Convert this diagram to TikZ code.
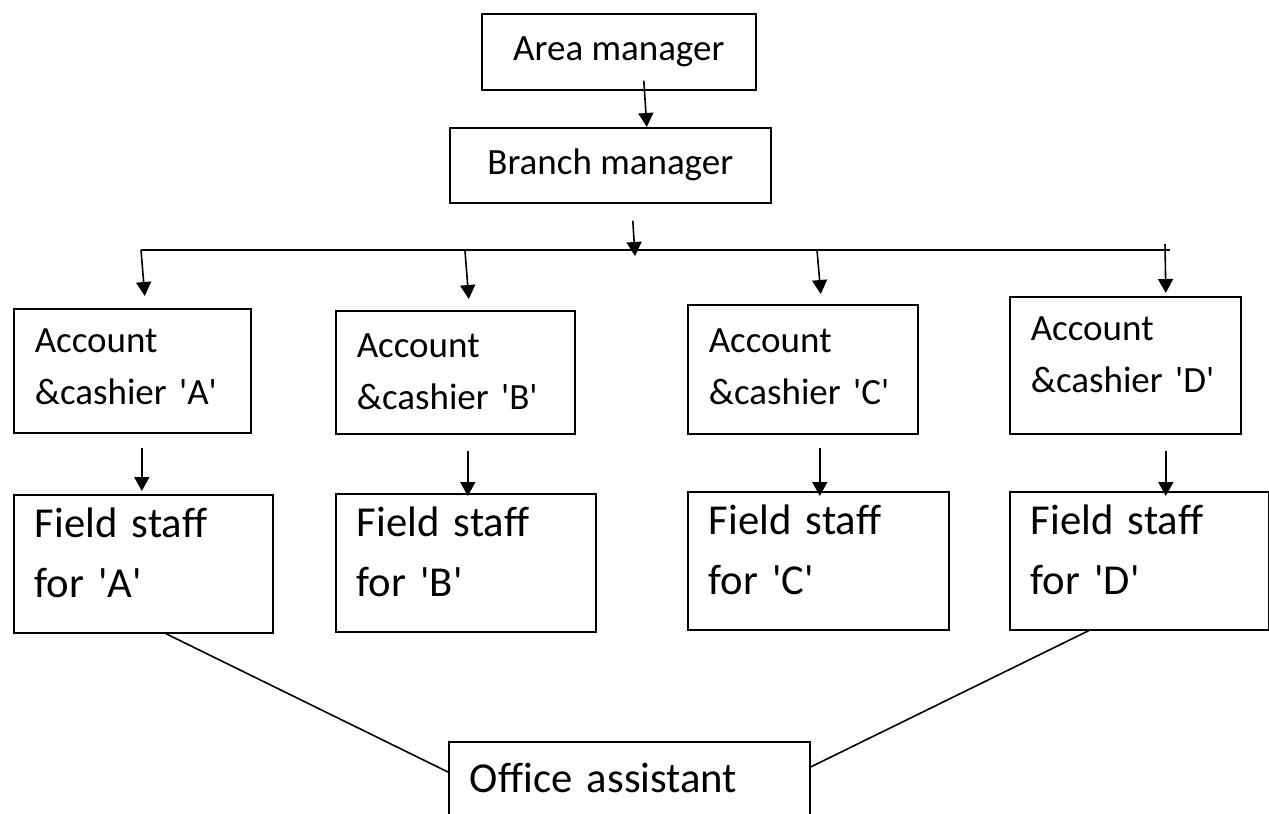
\documentclass[tikz,border=0pt]{standalone}
\usepackage{fontspec}
\setmainfont{Carlito}[Ligatures=NoCommon]
\usetikzlibrary{arrows.meta}
\newcommand{\sq}{\textquotesingle}

\begin{document}
\begin{tikzpicture}[x=0.75pt,y=0.75pt,yscale=-1,xscale=1,
  box/.style={draw, line width=1.2pt, anchor=north west, align=left, inner xsep=15.75pt, inner ysep=0pt},
  headbox/.style={box, align=center, inner xsep=0pt, font=\fontsize{27.75}{33}\selectfont},
  accbox/.style={box, text height=21pt, font=\fontsize{27.75}{39}\selectfont},
  staffbox/.style={box, text height=24pt, text depth=63pt, minimum height=103.5pt, font=\fontsize{32}{44.8}\selectfont},
  arr/.style={line width=1.2pt, -{Triangle[width=11.25pt,length=10.5pt]}},
  link/.style={line width=1.2pt}]
\useasboundingbox (0,0) rectangle (1269,813);
\clip (0,0) rectangle (1269,813);

% Text Node
\node [headbox, minimum width=205.5pt, minimum height=57pt] (area) at (481,13) {Area manager};
% Text Node
\node [headbox, minimum width=240.75pt, minimum height=56.25pt] (branch) at (449,127) {Branch manager};

% Text Node
\node [accbox, text width=146.25pt, minimum height=93pt, text depth=48pt] (accA) at (13,308) {Account\\\&cashier \sq A\sq};
% Text Node
\node [accbox, text width=147.75pt, minimum height=92.25pt, text depth=42.75pt] (accB) at (335,310) {Account\\\&cashier \sq B\sq};
% Text Node
\node [accbox, text width=141pt, minimum height=96.75pt, text depth=45.75pt] (accC) at (687,304) {Account\\\&cashier \sq C\sq};
% Text Node
\node [accbox, text width=141.75pt, minimum height=102.75pt, text depth=57.75pt] (accD) at (1009,296) {Account\\\&cashier \sq D\sq};

% Text Node
\node [staffbox, text width=162.75pt] (staffA) at (13,494) {Field staff\\for \sq A\sq};
% Text Node
\node [staffbox, text width=163.5pt] (staffB) at (335,493) {Field staff\\for \sq B\sq};
% Text Node
\node [staffbox, text width=164.25pt] (staffC) at (687,491) {Field staff\\for \sq C\sq};
% Text Node
\node [staffbox, text width=162.75pt] (staffD) at (1009,491) {Field staff\\for \sq D\sq};

% Text Node
\node [box, text width=239.25pt, inner ysep=15pt, text height=23pt, text depth=40pt, font=\fontsize{32}{44.8}\selectfont] (office) at (448,741) {Office assistant};

%Straight Lines
\coordinate (busL) at (141,250);
\coordinate (busB) at (465,251);
\coordinate (busC) at (817,250);
\coordinate (busD) at (1165,244);
\coordinate (busR) at (1170,250);
\coordinate (bmtip) at (635,256);
\draw [link] (busL) -- (busR);

\draw [arr] ([shift={(25,-10)}]area.south) -- ([shift={(36.5,0)}]branch.north);
\draw [arr] ([shift={(22.5,17)}]branch.south) -- (bmtip);

\draw [arr] (busL) -- ([shift={(12.5,-12)}]accA.north);
\draw [arr] (busB) -- ([shift={(13.5,-11)}]accB.north);
\draw [arr] (busC) -- ([shift={(18,-10)}]accC.north);
\draw [arr] (busD) -- ([shift={(40.5,-3)}]accD.north);

\draw [arr] ([shift={(9.5,14)}]accA.south) -- ([shift={(-1.5,-3)}]staffA.north);
\draw [arr] ([shift={(12.5,16)}]accB.south) -- ([shift={(2,3)}]staffB.north);
\draw [arr] ([shift={(17,13)}]accC.south) -- ([shift={(1.5,5)}]staffC.north);
\draw [arr] ([shift={(40.5,16)}]accD.south) -- ([shift={(26.5,5)}]staffD.north);

\draw [link] ([shift={(22.5,0)}]staffA.south) -- ([shift={(0,31)}]office.north west);
\draw [link] ([shift={(-50.5,0)}]staffD.south) -- ([shift={(0,26)}]office.north east);

\end{tikzpicture}
\end{document}
